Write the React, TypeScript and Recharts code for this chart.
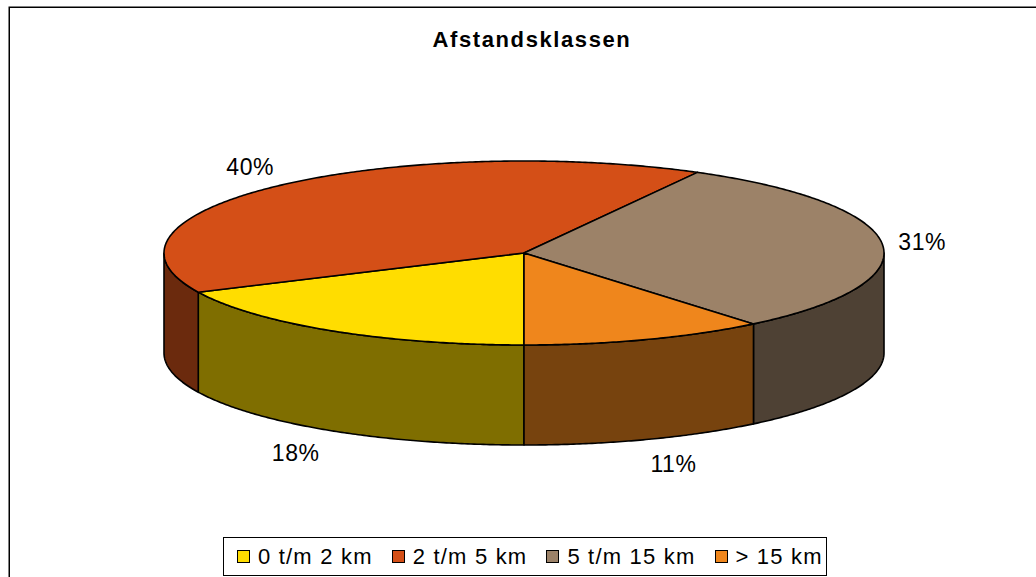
import React from 'react';
import { PieChart, Pie, Cell, Legend } from 'recharts';

const categories = ['0 t/m 2 km', '2 t/m 5 km', '5 t/m 15 km', '> 15 km'];
const values = [18, 40, 31, 11];
const topColors = ['#FFDD00', '#D44F17', '#9C8268', '#EF861C'];
const sideColors = ['#7F6E00', '#6B2A0D', '#4E4134', '#77430E'];

const data = categories.map((name, i) => ({ name, value: values[i] }));

const RATIO = 92 / 360;
const DEPTH = 100;
const FONT = '"Liberation Sans", Arial, sans-serif';

function pt(cx: number, cy: number, rx: number, ry: number, a: number): [number, number] {
  const r = (a * Math.PI) / 180;
  return [cx + rx * Math.cos(r), cy - ry * Math.sin(r)];
}

function sampleAngles(a1: number, a2: number): number[] {
  const n = Math.max(2, Math.ceil(Math.abs(a2 - a1) / 0.5));
  const out: number[] = [];
  for (let i = 0; i <= n; i++) out.push(a1 + ((a2 - a1) * i) / n);
  return out;
}

const TopShape = (props: any) => {
  const { cx, cy, outerRadius, startAngle, endAngle, fill } = props;
  const rx = outerRadius;
  const ry = outerRadius * RATIO;
  let d = `M${cx},${cy}`;
  sampleAngles(startAngle, endAngle).forEach((a) => {
    const [x, y] = pt(cx, cy, rx, ry, a);
    d += ` L${x.toFixed(2)},${y.toFixed(2)}`;
  });
  d += ' Z';
  return <path d={d} fill={fill} stroke="#000" strokeWidth={1.6} strokeLinejoin="round" />;
};

const SideShape = (props: any) => {
  const { cx, cy, outerRadius, startAngle, endAngle, fill } = props;
  const rx = outerRadius;
  const ry = outerRadius * RATIO;
  const angs = sampleAngles(startAngle, endAngle);
  const runs: number[][] = [];
  let cur: number[] = [];
  angs.forEach((a) => {
    if (Math.sin((a * Math.PI) / 180) <= 1e-9) cur.push(a);
    else {
      if (cur.length > 1) runs.push(cur);
      cur = [];
    }
  });
  if (cur.length > 1) runs.push(cur);
  return (
    <g>
      {runs.map((run, k) => {
        const top = run.map((a) => pt(cx, cy, rx, ry, a));
        const bottom = top.slice().reverse().map(([x, y]) => [x, y + DEPTH]);
        const d =
          'M' +
          top.map(([x, y]) => `${x.toFixed(2)},${y.toFixed(2)}`).join(' L') +
          ' L' +
          bottom.map(([x, y]) => `${x.toFixed(2)},${y.toFixed(2)}`).join(' L') +
          ' Z';
        return <path key={k} d={d} fill={fill} stroke="#000" strokeWidth={1.6} strokeLinejoin="round" />;
      })}
    </g>
  );
};

const renderLabel = (props: any) => {
  const { cx, cy, outerRadius, midAngle, percent } = props;
  const r = (midAngle * Math.PI) / 180;
  const rx = outerRadius;
  const ry = outerRadius * RATIO;
  const s = Math.sin(r);
  const c = Math.cos(r);
  const x = cx + (rx + 40) * c + (s < 0 ? 14 * Math.sign(c) : 0);
  const y = cy - (ry + 26) * s + (s < 0 ? DEPTH : 0);
  return (
    <text
      x={x}
      y={y}
      textAnchor="middle"
      dominantBaseline="central"
      fontFamily={FONT}
      fontSize={23}
      letterSpacing={0.6}
      fill="#000"
    >
      {`${Math.round(percent * 100)}%`}
    </text>
  );
};

const renderLegend = (props: any) => {
  const seen = new Set<string>();
  const items = (props.payload || []).filter((p: any) => {
    if (seen.has(p.value)) return false;
    seen.add(p.value);
    return true;
  });
  return (
    <div
      style={{
        border: '1.5px solid #000',
        boxSizing: 'border-box',
        width: 604,
        height: 39,
        display: 'flex',
        alignItems: 'center',
        paddingLeft: 13,
        fontFamily: FONT,
        fontSize: 22,
        letterSpacing: 1.2,
        background: '#fff',
      }}
    >
      {items.map((p: any, i: number) => (
        <div key={i} style={{ display: 'flex', alignItems: 'center', marginRight: 19 }}>
          <span
            style={{
              display: 'inline-block',
              width: 11,
              height: 11,
              border: '1.5px solid #000',
              background: topColors[categories.indexOf(p.value)],
              marginRight: 8,
            }}
          />
          <span style={{ whiteSpace: 'nowrap', color: '#000' }}>{p.value}</span>
        </div>
      ))}
    </div>
  );
};

export default function App() {
  return (
    <div style={{ position: 'absolute', left: 0, top: 0, width: 1036, height: 577, background: '#fff', overflow: 'hidden' }}>
      <svg width={1036} height={577} style={{ position: 'absolute', left: 0, top: 0 }}>
        <path d="M9.25,600 L9.25,7.25 L1100,7.25" fill="none" stroke="#000" strokeWidth={1.5} />
        <text
          x={532}
          y={47}
          textAnchor="middle"
          fontFamily={FONT}
          fontWeight="bold"
          fontSize={22}
          letterSpacing={1.6}
          fill="#000"
        >
          Afstandsklassen
        </text>
      </svg>
      <div style={{ position: 'absolute', left: 0, top: 0 }}>
        <PieChart width={1036} height={577} margin={{ top: 0, right: 0, bottom: 0, left: 0 }}>
          <Pie
            data={data}
            dataKey="value"
            nameKey="name"
            cx={524}
            cy={253}
            outerRadius={360}
            startAngle={-90}
            endAngle={-450}
            isAnimationActive={false}
            shape={SideShape}
            legendType="none"
            stroke="none"
          >
            {data.map((d, i) => (
              <Cell key={d.name} fill={sideColors[i]} />
            ))}
          </Pie>
          <Pie
            data={data}
            dataKey="value"
            nameKey="name"
            cx={524}
            cy={253}
            outerRadius={360}
            startAngle={-90}
            endAngle={-450}
            isAnimationActive={false}
            shape={TopShape}
            label={renderLabel}
            labelLine={false}
            legendType="square"
          >
            {data.map((d, i) => (
              <Cell key={d.name} fill={topColors[i]} />
            ))}
          </Pie>
          <Legend content={renderLegend} wrapperStyle={{ left: 223, top: 537, width: 604, height: 39, bottom: 'auto' }} />
        </PieChart>
      </div>
    </div>
  );
}
